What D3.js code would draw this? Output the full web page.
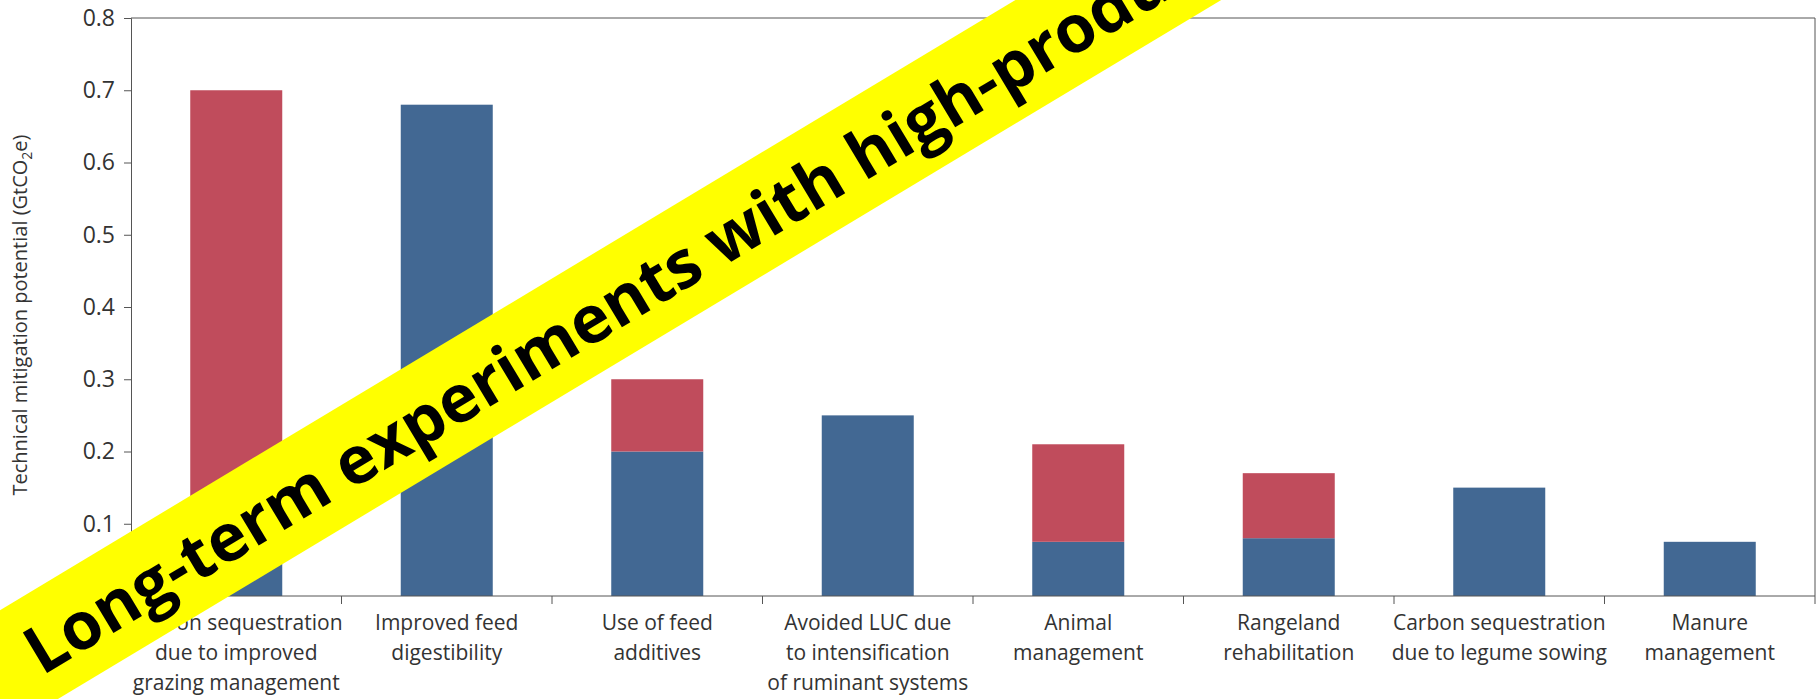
<!DOCTYPE html>
<html><head><meta charset="utf-8">
<script src="https://cdn.jsdelivr.net/npm/d3@7"></script>
<style>body{margin:0;background:#fff}</style>
</head><body>
<svg id="c" width="1820" height="699"></svg>
<script>
// categories, each label split into lines
var categories = [
  ["Carbon sequestration", "due to improved", "grazing management"],
  ["Improved feed", "digestibility"],
  ["Use of feed", "additives"],
  ["Avoided LUC due", "to intensification", "of ruminant systems"],
  ["Animal", "management"],
  ["Rangeland", "rehabilitation"],
  ["Carbon sequestration", "due to legume sowing"],
  ["Manure", "management"]
];
var blueVals = [0.12, 0.68, 0.2, 0.25, 0.075, 0.08, 0.15, 0.075];
var redVals  = [0.58, 0, 0.1, 0, 0.135, 0.09, 0, 0];
var yTicks = [0, 0.1, 0.2, 0.3, 0.4, 0.5, 0.6, 0.7, 0.8];

var svg = d3.select("#c");
var m = {l: 131, r: 1815, t: 18, b: 596};
var x = d3.scaleBand().domain(d3.range(categories.length)).range([m.l, m.r]);
var y = d3.scaleLinear().domain([0, 0.8]).range([m.b, m.t]);
var bw = 92;
var font = "'Open Sans', sans-serif";

// frame
svg.append("line").attr("x1", m.l).attr("x2", m.r).attr("y1", m.t).attr("y2", m.t).attr("stroke", "#555");
svg.append("line").attr("x1", m.r).attr("x2", m.r).attr("y1", m.t).attr("y2", m.b).attr("stroke", "#555");

// bars
var g = svg.append("g");
g.selectAll(".blue").data(blueVals).enter().append("rect")
  .attr("x", function(d, i) { return x(i) + x.bandwidth() / 2 - bw / 2; })
  .attr("width", bw)
  .attr("y", function(d) { return y(d); })
  .attr("height", function(d) { return y(0) - y(d); })
  .attr("fill", "#426893");
g.selectAll(".red").data(redVals).enter().append("rect")
  .attr("x", function(d, i) { return x(i) + x.bandwidth() / 2 - bw / 2; })
  .attr("width", bw)
  .attr("y", function(d, i) { return y(d + blueVals[i]); })
  .attr("height", function(d) { return y(0) - y(d); })
  .attr("fill", "#c04c5c");

// y axis
var ya = svg.append("g").attr("transform", "translate(" + m.l + ",0)")
  .call(d3.axisLeft(y).tickValues(yTicks).tickFormat(d3.format(".1f")).tickSize(7));
ya.selectAll("text").attr("font-family", font).attr("font-size", 23).attr("fill", "#333").attr("dx", -6);
ya.selectAll("line,path").attr("stroke", "#555");

// x axis with ticks at band boundaries
svg.append("line").attr("x1", m.l).attr("x2", m.r).attr("y1", m.b).attr("y2", m.b).attr("stroke", "#555");
svg.selectAll(".xt").data(d3.range(1, categories.length + 1)).enter().append("line")
  .attr("x1", function(d) { return m.l + d * x.bandwidth(); })
  .attr("x2", function(d) { return m.l + d * x.bandwidth(); })
  .attr("y1", m.b).attr("y2", m.b + 8).attr("stroke", "#555");
var lab = svg.selectAll(".xl").data(categories).enter().append("text")
  .attr("x", function(d, i) { return x(i) + x.bandwidth() / 2; })
  .attr("y", 630)
  .attr("text-anchor", "middle").attr("font-family", font).attr("font-size", 21).attr("fill", "#333");
lab.selectAll("tspan").data(function(d) { return d; }).enter().append("tspan")
  .attr("x", function() { return d3.select(this.parentNode).attr("x"); })
  .attr("dy", function(d, i) { return i ? 30 : 0; })
  .text(function(d) { return d; });

// y label
var yl = svg.append("text").attr("transform", "translate(27," + ((m.t + m.b) / 2 + 8) + ") rotate(-90)")
  .attr("text-anchor", "middle").attr("font-family", font).attr("font-size", 20).attr("fill", "#333");
yl.append("tspan").text("Technical mitigation potential (GtCO");
yl.append("tspan").attr("font-size", 14).attr("dy", 5).text("2");
yl.append("tspan").attr("dy", -5).text("e)");

// banner
var b = svg.append("g").attr("transform", "translate(545,348) rotate(-31)");
b.append("rect").attr("x", -660).attr("y", -56).attr("width", 2000).attr("height", 106).attr("fill", "#ffff00");
b.append("text").attr("x", -600).attr("y", 22).attr("font-family", font).attr("font-weight", "bold")
  .attr("font-size", 66).attr("fill", "#000").text("Long-term experiments with high-production");
</script>
</body></html>
